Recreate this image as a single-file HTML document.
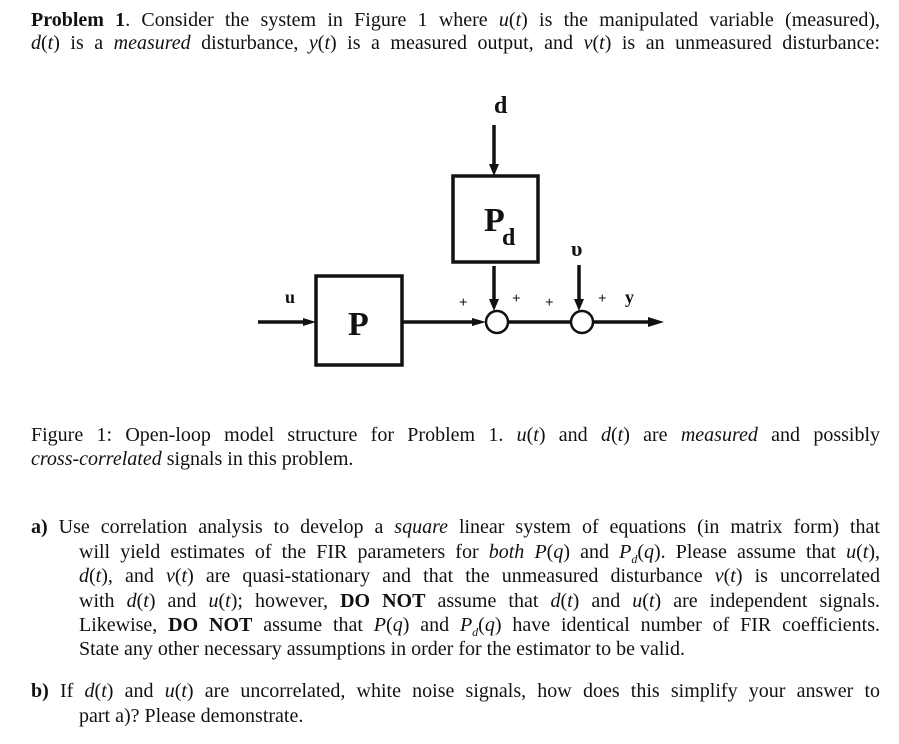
<!DOCTYPE html>
<html><head><meta charset="utf-8"><style>
body{margin:0;width:899px;height:744px;background:#fff;position:relative;overflow:hidden;font-family:"Liberation Serif",serif;font-size:20px;color:#111}
.l{position:absolute;line-height:24px;height:24px;white-space:nowrap;text-align:justify;text-align-last:justify}
.n{text-align-last:left}
i{font-style:italic}
b{font-weight:bold}
</style></head><body>
<div class="l" style="left:31px;top:8px;width:849px"><b>Problem 1</b>. Consider the system in Figure 1 where <i>u</i>(<i>t</i>) is the manipulated variable (measured),</div>
<div class="l" style="left:31px;top:31px;width:849px"><i>d</i>(<i>t</i>) is a <i>measured</i> disturbance, <i>y</i>(<i>t</i>) is a measured output, and <i>ν</i>(<i>t</i>) is an unmeasured disturbance:</div>

<svg style="position:absolute;left:0;top:0" width="899" height="400">
<g stroke="#111" stroke-width="3.5" fill="none">
<rect x="316" y="276" width="86" height="89"/>
<rect x="453" y="176" width="85" height="86"/>
<line x1="258" y1="322" x2="310" y2="322"/>
<line x1="402" y1="322" x2="480" y2="322"/>
<line x1="508" y1="322" x2="571" y2="322"/>
<line x1="593" y1="322" x2="650" y2="322"/>
<line x1="494" y1="125" x2="494" y2="166"/>
<line x1="494" y1="266" x2="494" y2="302"/>
<line x1="579" y1="265" x2="579" y2="301"/>
</g>
<g stroke="#111" stroke-width="2.5" fill="#fff">
<circle cx="497" cy="322" r="11"/>
<circle cx="582" cy="322" r="11"/>
</g>
<g fill="#111">
<polygon points="316,322 303,318 303,326"/>
<polygon points="486,322 472,318 472,326"/>
<polygon points="664,322 648,317 648,327"/>
<polygon points="494,176 489,164 499,164"/>
<polygon points="494,311 489,299 499,299"/>
<polygon points="579,311 574,299 584,299"/>
</g>
<g font-family="Liberation Serif,serif" font-weight="bold" fill="#111">
<text x="494" y="113" font-size="24">d</text>
<text x="348" y="335" font-size="34">P</text>
<text x="484" y="231" font-size="34">P</text>
<text x="502" y="245" font-size="24">d</text>
<text x="571" y="256" font-size="22">υ</text>
<text x="285" y="303" font-size="18">u</text>
<text x="625" y="303" font-size="18">y</text>
<g font-size="15"><text x="459" y="307">+</text><text x="512" y="303">+</text><text x="545" y="307">+</text><text x="598" y="303">+</text></g>
</g>
</svg>

<div class="l" style="left:31px;top:423px;width:849px">Figure 1: Open-loop model structure for Problem 1. <i>u</i>(<i>t</i>) and <i>d</i>(<i>t</i>) are <i>measured</i> and possibly</div>
<div class="l n" style="left:31px;top:447px"><i>cross-correlated</i> signals in this problem.</div>

<div class="l" style="left:31px;top:515px;width:849px"><b>a)</b> Use correlation analysis to develop a <i>square</i> linear system of equations (in matrix form) that</div>
<div class="l" style="left:79px;top:540px;width:801px">will yield estimates of the FIR parameters for <i>both</i> <i>P</i>(<i>q</i>) and <i>P<sub style="font-size:12px">d</sub></i>(<i>q</i>). Please assume that <i>u</i>(<i>t</i>),</div>
<div class="l" style="left:79px;top:564px;width:801px"><i>d</i>(<i>t</i>), and <i>ν</i>(<i>t</i>) are quasi-stationary and that the unmeasured disturbance <i>ν</i>(<i>t</i>) is uncorrelated</div>
<div class="l" style="left:79px;top:589px;width:801px">with <i>d</i>(<i>t</i>) and <i>u</i>(<i>t</i>); however, <b>DO NOT</b> assume that <i>d</i>(<i>t</i>) and <i>u</i>(<i>t</i>) are independent signals.</div>
<div class="l" style="left:79px;top:613px;width:801px">Likewise, <b>DO NOT</b> assume that <i>P</i>(<i>q</i>) and <i>P<sub style="font-size:12px">d</sub></i>(<i>q</i>) have identical number of FIR coefficients.</div>
<div class="l n" style="left:79px;top:637px">State any other necessary assumptions in order for the estimator to be valid.</div>

<div class="l" style="left:31px;top:679px;width:849px"><b>b)</b> If <i>d</i>(<i>t</i>) and <i>u</i>(<i>t</i>) are uncorrelated, white noise signals, how does this simplify your answer to</div>
<div class="l n" style="left:79px;top:704px">part a)? Please demonstrate.</div>
</body></html>
